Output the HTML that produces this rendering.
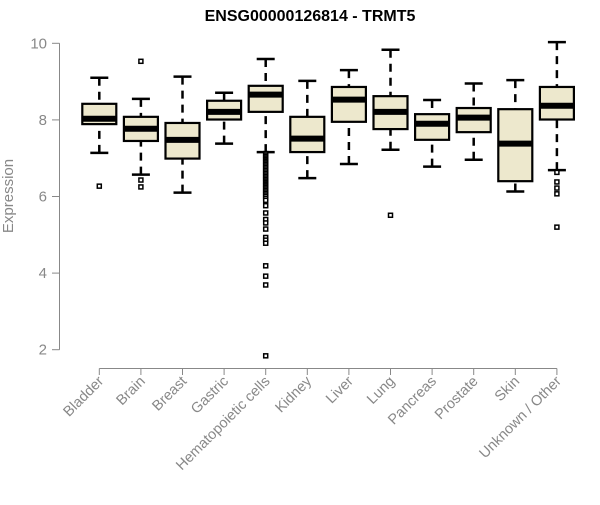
<!DOCTYPE html>
<html><head><meta charset="utf-8"><style>
body{margin:0;background:#fff}
svg text{font-family:"Liberation Sans",Arial,sans-serif}
</style></head><body>
<svg id="chart" width="600" height="500" viewBox="0 0 600 500" xmlns="http://www.w3.org/2000/svg">
<text x="310" y="21" text-anchor="middle" font-size="16" font-weight="bold" fill="#000">ENSG00000126814 - TRMT5</text>
<text transform="translate(13,196) rotate(-90)" text-anchor="middle" font-size="15" fill="#888">Expression</text>
<g id="axes"></g><g id="boxes"></g>
</svg>
<script>
const categories=["Bladder","Brain","Breast","Gastric","Hematopoietic cells","Kidney","Liver","Lung","Pancreas","Prostate","Skin","Unknown / Other"];
const whiskerLow=[7.14,6.57,6.10,7.38,7.16,6.48,6.85,7.22,6.78,6.96,6.13,6.69];
const q1=[7.89,7.45,6.99,8.01,8.21,7.16,7.95,7.76,7.48,7.68,6.40,8.01];
const medians=[8.03,7.77,7.48,8.21,8.66,7.51,8.53,8.21,7.90,8.06,7.38,8.37];
const q3=[8.42,8.08,7.92,8.50,8.89,8.08,8.86,8.62,8.15,8.31,8.28,8.86];
const whiskerHigh=[9.10,8.55,9.13,8.71,9.59,9.02,9.30,9.83,8.52,8.95,9.04,10.03];
const outliers=[[6.27],[9.53,6.43,6.25],[],[],
[7.12,7.08,7.04,7.0,6.96,6.92,6.88,6.84,6.8,6.76,6.72,6.68,6.64,6.6,6.56,6.52,6.48,6.44,6.4,6.36,6.32,6.28,6.24,6.2,6.16,6.12,6.08,6.04,6.0,5.95,5.9,5.76,5.57,5.40,5.31,5.15,4.93,4.86,4.78,4.19,3.92,3.69,1.84],
[],[],[5.51],[],[],[],[6.63,6.38,6.22,6.07,5.20]];
const yTicks=[2,4,6,8,10];
const NS="http://www.w3.org/2000/svg";
const y=v=>43.3+(10-v)*38.3;
const x=i=>99.3+i*41.6;
function mk(tag,attrs,parent){const e=document.createElementNS(NS,tag);for(const k in attrs)e.setAttribute(k,attrs[k]);parent.appendChild(e);return e;}
const ax=document.getElementById('axes'),bx=document.getElementById('boxes');
let l=mk('line',{x1:59.5,x2:59.5,y1:y(10),y2:y(2),stroke:'#888','stroke-width':1},ax);


yTicks.forEach(t=>{
 const tk=mk('line',{x1:52,x2:59.5,y1:y(t),y2:y(t),stroke:'#888'},ax);
 
 
 const tx=mk('text',{x:47,y:y(t)+5,'text-anchor':'end','font-size':15,fill:'#888'},ax);tx.textContent=t;
 
 
});
l=mk('line',{x1:x(0),x2:x(categories.length-1),y1:368.5,y2:368.5,stroke:'#888'},ax);


categories.forEach((c,i)=>{
 const tk=mk('line',{x1:x(i),x2:x(i),y1:368.5,y2:375,stroke:'#888'},ax);
 
 
 const tx=mk('text',{transform:`translate(${x(i)+5},${382}) rotate(-45)`,'text-anchor':'end','font-size':14.5,fill:'#888'},ax);tx.textContent=c;
 
 
 const g=mk('g',{},bx);
 
 
 const cx=x(i);
 mk('line',{x1:cx,x2:cx,y1:y(whiskerHigh[i]),y2:y(q3[i]),stroke:'#000','stroke-width':2.5,'stroke-dasharray':'8,6'},g);
 mk('line',{x1:cx,x2:cx,y1:y(whiskerLow[i]),y2:y(q1[i]),stroke:'#000','stroke-width':2.5,'stroke-dasharray':'8,6'},g);
 mk('line',{x1:cx-9,x2:cx+9,y1:y(whiskerHigh[i]),y2:y(whiskerHigh[i]),stroke:'#000','stroke-width':2.5},g);
 mk('line',{x1:cx-9,x2:cx+9,y1:y(whiskerLow[i]),y2:y(whiskerLow[i]),stroke:'#000','stroke-width':2.5},g);
 mk('rect',{x:cx-17,y:y(q3[i]),width:34,height:y(q1[i])-y(q3[i]),fill:'#ede8cd',stroke:'#000','stroke-width':2.2},g);
 mk('line',{x1:cx-17,x2:cx+17,y1:y(medians[i]),y2:y(medians[i]),stroke:'#000','stroke-width':6},g);
 outliers[i].forEach(v=>{mk('rect',{x:cx-2,y:y(v)-2,width:4,height:4,fill:'#fff',stroke:'#000','stroke-width':1.5},g);});
});
</script>
</body></html>
